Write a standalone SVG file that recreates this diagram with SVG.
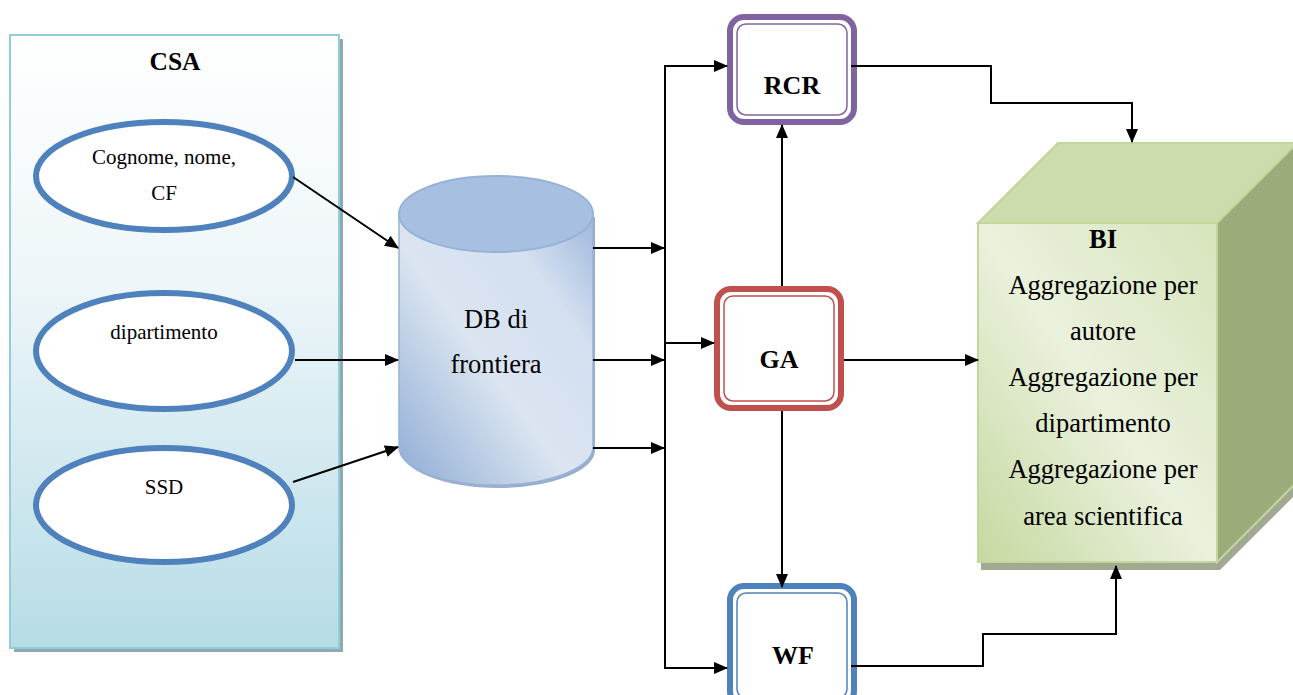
<svg xmlns="http://www.w3.org/2000/svg" width="1293" height="695" viewBox="0 0 1293 695" font-family="Liberation Serif, serif">
<style>
text{font-family:'Liberation Serif',serif}
.t{fill:#000;text-anchor:middle}
.b{font-weight:bold}
.ell{fill:#fff;stroke:#4f81bd;stroke-width:6}
.c{fill:none;stroke:#000;stroke-width:2}
</style>
<defs>
<linearGradient id="csaG" x1="0" y1="0" x2="0" y2="1">
<stop offset="0" stop-color="#ffffff"/><stop offset="0.4" stop-color="#eef6f9"/><stop offset="1" stop-color="#b6dce6"/>
</linearGradient>
<linearGradient id="cylG" x1="0" y1="1" x2="1" y2="0">
<stop offset="0" stop-color="#8eabd4"/><stop offset="0.45" stop-color="#dbe5f1"/><stop offset="0.75" stop-color="#d4dff0"/><stop offset="1" stop-color="#9db7dc"/>
</linearGradient>
<linearGradient id="biG" x1="0" y1="1" x2="1" y2="0">
<stop offset="0" stop-color="#c6d9a1"/><stop offset="0.5" stop-color="#eaf1dd"/><stop offset="1" stop-color="#d6e4bb"/>
</linearGradient>
<marker id="ah" markerWidth="14" markerHeight="12" refX="13" refY="6" orient="auto" markerUnits="userSpaceOnUse">
<path d="M0,0 L14,6 L0,12 Z" fill="#000"/>
</marker>
</defs>

<g id="csa">
<rect x="14" y="39" width="329" height="613" fill="#8fa9b0"/>
<rect x="10" y="35" width="329" height="613" fill="url(#csaG)" stroke="#92cddc" stroke-width="2"/>
<text class="t b" x="175" y="70" font-size="25.5">CSA</text>
</g>

<g id="e1">
<ellipse class="ell" cx="164" cy="176" rx="128" ry="54"/>
<text class="t" x="164" y="164" font-size="21">Cognome, nome,</text>
<text class="t" x="164" y="200" font-size="21">CF</text>
</g>
<g id="e2">
<ellipse class="ell" cx="164" cy="351" rx="128" ry="58"/>
<text class="t" x="164" y="339" font-size="21">dipartimento</text>
</g>
<g id="e3">
<ellipse class="ell" cx="164" cy="505" rx="128" ry="57"/>
<text class="t" x="164" y="494" font-size="21">SSD</text>
</g>

<g id="db">
<path d="M399,214 L399,447 A97,38 0 0 0 593,447 L593,214" fill="#9aaecb" transform="translate(2,3)"/>
<path d="M399,214 L399,447 A97,38 0 0 0 593,447 L593,214 Z" fill="url(#cylG)" stroke="#95b3d7" stroke-width="1.5"/>
<ellipse cx="496" cy="214" rx="97" ry="38" fill="#a7bfe0" stroke="#95b3d7" stroke-width="2"/>
<text class="t" x="496" y="328" font-size="26.5">DB di</text>
<text class="t" x="496" y="373" font-size="26.5">frontiera</text>
</g>

<g id="rcr">
<rect x="730" y="17" width="124" height="105" rx="14" fill="#fff" stroke="#8064a2" stroke-width="6"/>
<rect x="737" y="24" width="110" height="91" rx="9" fill="#fff" stroke="#8064a2" stroke-width="1.5"/>
<text class="t b" x="792" y="94" font-size="26">RCR</text>
</g>
<g id="ga">
<rect x="717" y="289" width="124" height="119" rx="14" fill="#fff" stroke="#c0504d" stroke-width="6"/>
<rect x="724" y="296" width="110" height="105" rx="9" fill="#fff" stroke="#c0504d" stroke-width="1.5"/>
<text class="t b" x="779" y="368" font-size="26">GA</text>
</g>
<g id="wf">
<rect x="730" y="586" width="124" height="119" rx="14" fill="#fff" stroke="#4f81bd" stroke-width="6"/>
<rect x="737" y="593" width="110" height="105" rx="9" fill="#fff" stroke="#4f81bd" stroke-width="1.5"/>
<text class="t b" x="793" y="664" font-size="26">WF</text>
</g>

<g id="bi">
<path d="M981,226 L1220,226 L1300,146 L1300,490 L1220,570 L981,570 Z" fill="#a3a893"/>
<path d="M978,223 L1058,143 L1297,143 L1217,223 Z" fill="#cddcac" stroke="#c3d69b" stroke-width="2"/>
<path d="M1217,223 L1297,143 L1297,482 L1217,562 Z" fill="#9bab79" stroke="#c3d69b" stroke-width="2"/>
<rect x="978" y="223" width="239" height="339" fill="url(#biG)" stroke="#c3d69b" stroke-width="2"/>
<text class="t b" x="1103" y="248" font-size="26.5">BI</text>
<text class="t" x="1103" y="294" font-size="26.5">Aggregazione per</text>
<text class="t" x="1103" y="340" font-size="26.5">autore</text>
<text class="t" x="1103" y="386" font-size="26.5">Aggregazione per</text>
<text class="t" x="1103" y="432" font-size="26.5">dipartimento</text>
<text class="t" x="1103" y="478" font-size="26.5">Aggregazione per</text>
<text class="t" x="1103" y="525" font-size="26.5">area scientifica</text>
</g>

<g id="connectors">
<line class="c" x1="293" y1="177" x2="398" y2="248" marker-end="url(#ah)"/>
<line class="c" x1="295" y1="360" x2="398" y2="360" marker-end="url(#ah)"/>
<line class="c" x1="293" y1="482" x2="398" y2="447" marker-end="url(#ah)"/>
<line class="c" x1="593" y1="248" x2="664" y2="248" marker-end="url(#ah)"/>
<line class="c" x1="593" y1="360" x2="664" y2="360" marker-end="url(#ah)"/>
<line class="c" x1="593" y1="448" x2="664" y2="448" marker-end="url(#ah)"/>
<line class="c" x1="665" y1="65" x2="665" y2="669"/>
<line class="c" x1="664" y1="66" x2="727" y2="66" marker-end="url(#ah)"/>
<line class="c" x1="664" y1="343" x2="714" y2="343" marker-end="url(#ah)"/>
<line class="c" x1="664" y1="668" x2="727" y2="668" marker-end="url(#ah)"/>
<line class="c" x1="782" y1="286" x2="782" y2="125" marker-end="url(#ah)"/>
<line class="c" x1="782" y1="411" x2="782" y2="587" marker-end="url(#ah)"/>
<line class="c" x1="844" y1="360" x2="978" y2="360" marker-end="url(#ah)"/>
<polyline class="c" points="851,66 991,66 991,103 1132,103 1132,142" marker-end="url(#ah)"/>
<polyline class="c" points="851,666 983,666 983,634 1116,634 1116,566" marker-end="url(#ah)"/>
</g>
</svg>
